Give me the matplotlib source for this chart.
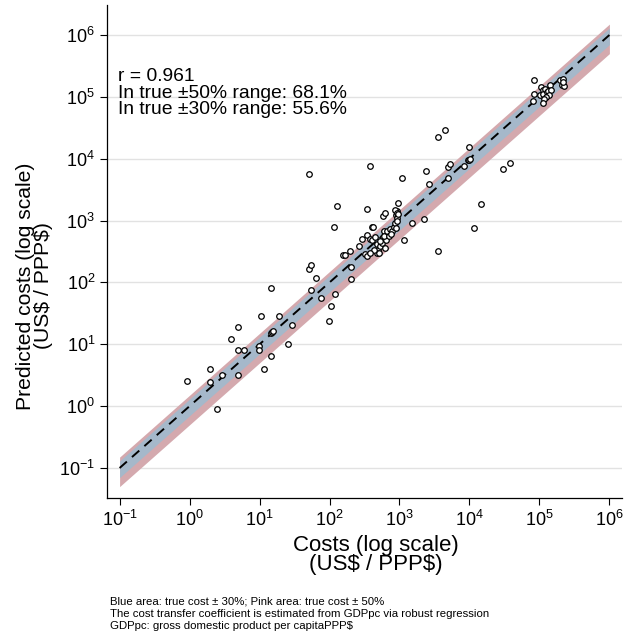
import numpy as np
import matplotlib
matplotlib.use("Agg")
import matplotlib.pyplot as plt

plt.rcParams['font.family'] = ['Liberation Sans', 'DejaVu Sans']
plt.rcParams['mathtext.fontset'] = 'custom'
plt.rcParams['mathtext.rm'] = 'Liberation Sans'
plt.rcParams['mathtext.it'] = 'Liberation Sans:italic'
plt.rcParams['mathtext.default'] = 'regular'

costs = [0.91, 1.98, 1.98, 2.45, 2.94, 3.96, 4.88, 4.93, 4.93, 5.94, 9.8, 9.9,
         10.5, 11.7, 14.7, 14.5, 15.0, 15.6, 14.7, 19.2, 25.8, 29.1,
         51, 54.5, 51, 55, 64.8, 76.4, 99, 104, 121, 117, 129, 157, 166, 198,
         203, 206, 267, 289, 340, 343, 379, 408,
         321, 349, 379, 410, 451, 472, 498, 526, 557, 587, 601, 641, 627, 601,
         670, 731, 781, 834, 862, 891, 912, 931, 931, 472, 510, 433, 862, 912,
         952, 414, 581, 627, 940, 380, 520, 700, 760, 880,
         1075, 1160, 1525, 2220, 2370, 2610, 3510, 3510, 4510, 4890, 4890, 5260,
         8340, 9520, 9700, 10300, 9930, 11500, 14500, 29800, 37900,
         83400, 83400, 81600, 107000, 113000, 102000, 111000, 120000, 127000,
         134000, 141000, 144000, 138000, 124000, 116000, 113000,
         196000, 219000, 208000, 224000, 214000]
predicted = [2.54, 4.0, 2.42, 0.89, 3.2, 12.1, 19.2, 8.05, 3.18, 8.05, 9.46, 7.96,
             28.3, 4.0, 6.37, 15.0, 15.6, 16.3, 80, 28.3, 10, 20.2,
             5560, 75.2, 166, 188, 120, 56.4, 23.7, 41.4, 64.7, 782, 1710, 279, 282, 324,
             179, 113, 382, 495, 581, 1546, 7570, 782,
             286, 272, 495, 479, 533, 411, 333, 391, 438, 533, 675, 482, 363, 563,
             682, 718, 667, 773, 897, 1208, 1435, 1097, 970, 300, 294, 333, 1472, 1310,
             1260, 773, 1178, 1330, 1890, 300, 470, 560, 600, 760,
             4900, 477, 897, 1042, 6280, 3830, 321, 22800, 28600, 4840, 7290, 8150,
             7660, 9700, 9400, 9800, 15500, 754, 1820, 6700, 8550,
             185000, 110000, 85900, 145000, 128000, 106000, 113000, 136000, 119000,
             125000, 156000, 131000, 106000, 99600, 92500, 79800,
             185000, 197000, 154000, 148000, 174000]

stats_lines = ["r = 0.961",
               "In true \u00b150% range: 68.1%",
               "In true \u00b130% range: 55.6%"]
notes = ["Blue area: true cost \u00b1 30%; Pink area: true cost \u00b1 50%",
         "The cost transfer coefficient is estimated from GDPpc via robust regression",
         "GDPpc: gross domestic product per capitaPPP\\$"]

W, H = 626, 634
fig = plt.figure(figsize=(W / 100, H / 100), dpi=100)
ax = fig.add_axes([107 / W, 1 - 498 / H, (622 - 107) / W, (498 - 5) / H])

ax.set_xscale('log')
ax.set_yscale('log')
ax.set_xlim(10 ** -1.18, 10 ** 6.18)
ax.set_ylim(10 ** -1.485, 10 ** 6.485)

line_x = np.array([0.1, 1e6])
ax.fill_between(line_x, line_x * 0.5, line_x * 1.5, color='#d4a9ae', lw=0, zorder=1)
ax.fill_between(line_x, line_x * 0.7, line_x * 1.3, color='#a5b8ca', lw=0, zorder=2)
ax.plot(line_x, line_x, color='black', lw=1.4, ls=(0, (5, 3.5)), zorder=3)

ax.scatter(costs, predicted, s=16, facecolor='white', edgecolor='black',
           linewidth=0.9, zorder=4)

ax.set_xticks([10.0 ** k for k in range(-1, 7)])
ax.set_yticks([10.0 ** k for k in range(-1, 7)])
ax.minorticks_off()
ax.tick_params(labelsize=13, length=5, width=0.8, color='black')
ax.grid(axis='y', color='#e2e2e2', lw=1)
ax.set_axisbelow(True)
for s in ['top', 'right']:
    ax.spines[s].set_visible(False)
for s in ['left', 'bottom']:
    ax.spines[s].set_linewidth(0.9)

ax.set_xlabel("Costs (log scale)\n(US\\$ / PPP\\$)", fontsize=16, linespacing=0.9)
ax.set_ylabel("Predicted costs (log scale)\n(US\\$ / PPP\\$)", fontsize=15.2, linespacing=0.9)
ax.xaxis.set_label_coords(0.522, -0.075)
ax.yaxis.set_label_coords(-0.105, 0.43)

for i, t in enumerate(stats_lines):
    fig.text(118 / W, 1 - (68 + 16.5 * i) / H, t, fontsize=13.9, va='top', ha='left')

for i, t in enumerate(notes):
    fig.text(110 / W, 1 - (597 + 12 * i) / H, t, fontsize=8.2, va='top', ha='left')

fig.savefig('out.png', dpi=100)
